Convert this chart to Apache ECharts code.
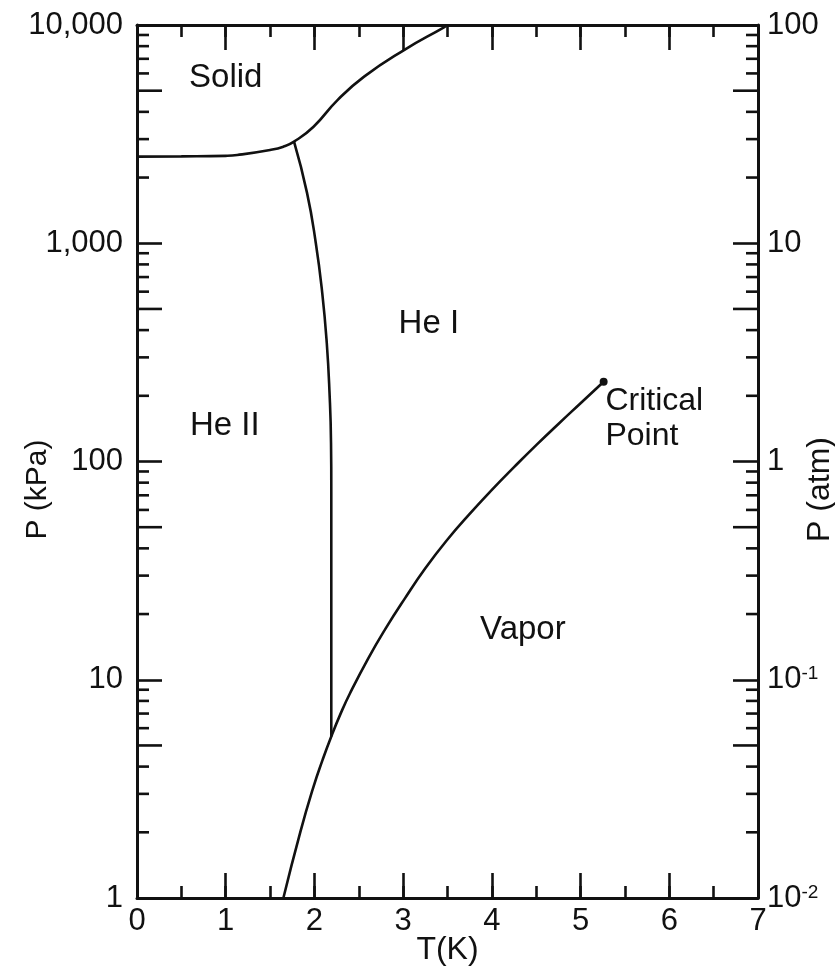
<!DOCTYPE html>
<html><head><meta charset="utf-8">
<script src="https://cdn.jsdelivr.net/npm/echarts@6/dist/echarts.min.js"></script>
<style>html,body{margin:0;padding:0;background:#fff}#c{width:835px;height:980px}</style>
</head><body><div id="c"></div>
<script>
// ---- axis ranges & ticks ----
const T_MIN = 0, T_MAX = 7;
const KPA_MIN = 1, KPA_MAX = 10000;
const ATM_MIN = 0.01, ATM_MAX = 100;
const kpaTickValues = [1, 10, 100, 1000, 10000];
const kpaTickLabels = ['1', '10', '100', '1,000', '10,000'];
const atmTickValues = [0.01, 0.1, 1, 10, 100];
const atmTickLabels = ['{b|10}{s|-2}', '{b|10}{s|-1}', '{b|1}', '{b|10}', '{b|100}'];
const kpaMinorTicks = [2,3,4,5,6,7,8,9, 20,30,40,50,60,70,80,90, 200,300,400,500,600,700,800,900, 2000,3000,4000,5000,6000,7000,8000,9000];
const atmMinorTicks = [0.02,0.03,0.04,0.05,0.06,0.07,0.08,0.09, 0.2,0.3,0.4,0.5,0.6,0.7,0.8,0.9, 2,3,4,5,6,7,8,9, 20,30,40,50,60,70,80,90];

// ---- phase boundaries: [T (K), P (kPa)] ----
const meltingCurve = [[0,2494],[0.5,2500],[1.0,2515],[1.13,2537],[1.5,2675],[1.65,2770],[1.77,2920],[1.99,3420],[2.26,4530],[2.56,5800],[3.01,7680],[3.46,9760],[3.50,10000]];
const lambdaLine = [[1.77,2920],[1.916,1706],[2.015,1006],[2.088,593],[2.139,350],[2.170,207],[2.187,122],[2.19,71.9],[2.19,30],[2.19,5.5]];
const vaporCurve = [[1.65,1.0],[1.84,2.0],[1.99,3.24],[2.09,4.27],[2.19,5.5],[2.30,7.07],[2.40,8.65],[2.61,12.6],[2.80,17.1],[3.02,23.6],[3.25,32.4],[3.50,43.9],[3.75,57.5],[4.00,74.1],[4.25,94.2],[4.50,118.9],[4.75,148.6],[5.00,184.9],[5.26,232]];
const criticalPoint = [[5.26,232]];

// ---- region labels: [T, P, text] ----
const regionLabels = [[1.0,5715,'Solid'],[3.29,427,'He I'],[0.99,145,'He II'],[4.35,16.9,'Vapor']];
const criticalLabel = [[5.28,157,'Critical\nPoint']];

const FONT = 'Liberation Sans, Arial, Helvetica, sans-serif';
const INK = '#111';

function labelFor(values, labels, v) {
  const i = values.findIndex(t => Math.abs(Math.log10(t) - Math.log10(v)) < 1e-6);
  return i >= 0 ? labels[i] : '';
}
function isFive(v) {
  const m = v / Math.pow(10, Math.floor(Math.log10(v) + 1e-9));
  return Math.abs(m - 5) < 0.01;
}
function tickRenderer(dir) {
  return function (params, api) {
    const p = api.coord([api.value(0), api.value(1)]);
    const len = isFive(api.value(1)) ? 25 : 12;
    return { type: 'line', shape: { x1: p[0], y1: p[1], x2: p[0] + dir * len, y2: p[1] },
      style: { stroke: INK, lineWidth: 2.6 } };
  };
}

const xBase = {
  type: 'value', min: T_MIN, max: T_MAX, splitLine: { show: false },
  axisLine: { onZero: false, lineStyle: { color: INK, width: 3 } }
};
const chart = echarts.init(document.getElementById('c'), null, { renderer: 'canvas' });
chart.setOption({
  animation: false,
  backgroundColor: '#fff',
  grid: { left: 137, right: 77, top: 25, bottom: 82, containLabel: false, outerBoundsMode: 'none' },
  xAxis: [
    Object.assign({}, xBase, { position: 'bottom', interval: 1,
      axisTick: { inside: true, length: 25, lineStyle: { color: INK, width: 2.6 } },
      axisLabel: { color: INK, fontSize: 31, fontFamily: FONT, margin: 8 },
      name: 'T(K)', nameLocation: 'middle', nameGap: 36, nameMoveOverlap: false,
      nameTextStyle: { color: INK, fontSize: 32, fontFamily: FONT } }),
    Object.assign({}, xBase, { position: 'bottom', interval: 0.5, axisLine: { show: false },
      axisTick: { inside: true, length: 12, lineStyle: { color: INK, width: 2.6 } },
      axisLabel: { show: false } }),
    Object.assign({}, xBase, { position: 'top', interval: 1,
      axisTick: { inside: true, length: 25, lineStyle: { color: INK, width: 2.6 } },
      axisLabel: { show: false } }),
    Object.assign({}, xBase, { position: 'top', interval: 0.5, axisLine: { show: false },
      axisTick: { inside: true, length: 12, lineStyle: { color: INK, width: 2.6 } },
      axisLabel: { show: false } })
  ],
  yAxis: [
    { type: 'log', logBase: 10, min: KPA_MIN, max: KPA_MAX, position: 'left',
      splitLine: { show: false },
      axisLine: { onZero: false, lineStyle: { color: INK, width: 3 } },
      axisTick: { inside: true, length: 25, lineStyle: { color: INK, width: 2.6 } },
      axisLabel: { color: INK, fontSize: 31, fontFamily: FONT, margin: 14,
        formatter: v => labelFor(kpaTickValues, kpaTickLabels, v) },
      name: 'P (kPa)', nameLocation: 'middle', nameRotate: 90, nameGap: 84, nameMoveOverlap: false,
      nameTextStyle: { color: INK, fontSize: 30, fontFamily: FONT, padding: [0, 56, 0, 0] } },
    { type: 'log', logBase: 10, min: ATM_MIN, max: ATM_MAX, position: 'right',
      splitLine: { show: false },
      axisLine: { onZero: false, lineStyle: { color: INK, width: 3 } },
      axisTick: { inside: true, length: 25, lineStyle: { color: INK, width: 2.6 } },
      axisLabel: { color: INK, margin: 9,
        formatter: v => labelFor(atmTickValues, atmTickLabels, v),
        rich: { b: { fontSize: 31, fontFamily: FONT, color: INK, lineHeight: 30 },
                s: { fontSize: 19, fontFamily: FONT, color: INK, verticalAlign: 'top', lineHeight: 14 } } },
      name: 'P (atm)', nameLocation: 'middle', nameRotate: 90, nameGap: 46, nameMoveOverlap: false,
      nameTextStyle: { color: INK, fontSize: 32, fontFamily: FONT, padding: [0, 56, 0, 0] } }
  ],
  series: [
    { type: 'custom', xAxisIndex: 0, yAxisIndex: 0, silent: true, clip: false,
      renderItem: tickRenderer(1), data: kpaMinorTicks.map(v => [T_MIN, v]) },
    { type: 'custom', xAxisIndex: 0, yAxisIndex: 1, silent: true, clip: false,
      renderItem: tickRenderer(-1), data: atmMinorTicks.map(v => [T_MAX, v]) },
    { name: 'melting', type: 'line', xAxisIndex: 0, yAxisIndex: 0, data: meltingCurve,
      showSymbol: false, smooth: 0.5, lineStyle: { color: INK, width: 2.6 } },
    { name: 'lambda', type: 'line', xAxisIndex: 0, yAxisIndex: 0, data: lambdaLine,
      showSymbol: false, smooth: 0.5, lineStyle: { color: INK, width: 2.6 } },
    { name: 'vapor', type: 'line', xAxisIndex: 0, yAxisIndex: 0, data: vaporCurve,
      showSymbol: false, smooth: 0.5, lineStyle: { color: INK, width: 2.6 } },
    { name: 'critical', type: 'scatter', xAxisIndex: 0, yAxisIndex: 0, data: criticalPoint,
      symbolSize: 8, itemStyle: { color: INK, opacity: 1 } },
    { name: 'regions', type: 'scatter', xAxisIndex: 0, yAxisIndex: 0, data: regionLabels,
      symbolSize: 0, silent: true, itemStyle: { opacity: 1 },
      label: { show: true, position: 'inside', formatter: p => p.data[2],
        color: INK, fontSize: 33, fontFamily: FONT } },
    { name: 'criticalLabel', type: 'scatter', xAxisIndex: 0, yAxisIndex: 0, data: criticalLabel,
      symbolSize: 0, silent: true, itemStyle: { opacity: 1 },
      label: { show: true, position: 'right', distance: 0, align: 'left', formatter: p => p.data[2],
        color: INK, fontSize: 32, lineHeight: 35, fontFamily: FONT } }
  ]
});
</script></body></html>
